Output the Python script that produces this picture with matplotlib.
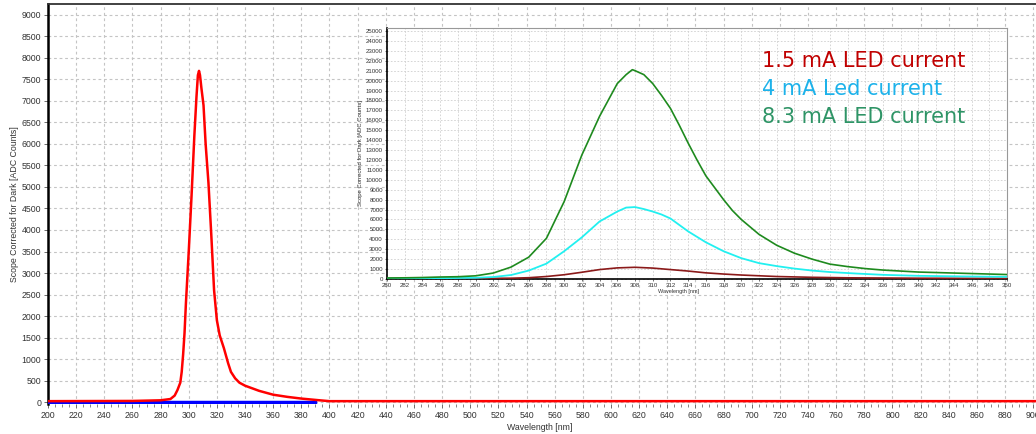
import matplotlib
matplotlib.use("Agg")
import matplotlib.pyplot as plt
from matplotlib.ticker import MultipleLocator

# ---- main spectrum (1.5 mA, red) ----
main_nm = [200, 260, 280, 287, 290, 292, 294, 295, 296, 297, 298, 300, 302, 304, 305.5,
           306.5, 307.3, 308, 309, 310.5, 312, 314, 316, 318, 320, 322, 325, 328, 330,
           333, 336, 340, 345, 350, 360, 370, 380, 393, 400, 902]
main_counts = [20, 25, 40, 70, 150, 280, 450, 700, 1100, 1600, 2300, 3500, 4800, 6200, 7100,
               7600, 7700, 7600, 7300, 6900, 6000, 5100, 3900, 2600, 1900, 1550, 1250, 900, 700,
               550, 450, 380, 320, 260, 170, 120, 80, 40, 20, 20]
blue_nm = [200, 390]
blue_counts = [0, 0]

# ---- inset spectra ----
green_nm = [280, 282, 284, 286, 288, 290, 292, 294, 296, 298, 300, 302, 304, 306, 307, 307.7,
            308, 309, 310, 311, 312, 313, 314, 315, 316, 317, 318, 319, 320, 322, 324, 326,
            328, 330, 332, 334, 336, 338, 340, 344, 350]
green_counts = [100, 120, 150, 200, 230, 320, 600, 1200, 2200, 4100, 7800, 12500, 16400, 19700,
                20600, 21100, 21000, 20600, 19700, 18500, 17200, 15500, 13700, 12000, 10400,
                9200, 8000, 6900, 6000, 4500, 3400, 2600, 2000, 1500, 1250, 1050, 900, 800,
                700, 600, 450]
cyan_nm = [280, 286, 290, 292, 294, 296, 298, 300, 302, 304, 306, 307, 308, 309, 310, 311, 312,
           314, 316, 318, 320, 322, 324, 326, 328, 330, 333, 336, 340, 345, 350]
cyan_counts = [50, 80, 120, 200, 400, 850, 1550, 2800, 4200, 5800, 6800, 7200, 7250, 7050, 6800,
               6500, 6100, 4800, 3700, 2800, 2100, 1600, 1300, 1050, 850, 700, 550, 420, 320,
               260, 220]
dred_nm = [280, 290, 294, 296, 298, 300, 302, 304, 306, 308, 310, 312, 314, 316, 318, 320, 324,
           328, 332, 340, 350]
dred_counts = [50, 60, 80, 130, 250, 430, 680, 950, 1120, 1180, 1100, 950, 800, 620, 500, 400,
               250, 170, 120, 80, 60]

legend_texts = ["1.5 mA LED current", "4 mA Led current", "8.3 mA LED current"]
legend_colors = ["#C00000", "#1DB2EA", "#2E9466"]

ylabel = "Scope Corrected for Dark [ADC Counts]"
xlabel = "Wavelength [nm]"

small = "Liberation Sans"
W, H = 1036, 434
fig = plt.figure(figsize=(W/100, H/100), dpi=100)
ax = fig.add_axes([48/W, 30/H, 1 - 48/W, (H-4-30)/H])
ax.set_xlim(200, 902)
ax.set_ylim(-46, 9255)
ax.xaxis.set_major_locator(MultipleLocator(20))
ax.xaxis.set_minor_locator(MultipleLocator(5))
ax.yaxis.set_major_locator(MultipleLocator(500))
ax.grid(True, which="major", color="#c4c4c4", linestyle=(0, (2.5, 2.5)), linewidth=0.8)
ax.plot(blue_nm, blue_counts, color="#0000FF", linewidth=2.5, zorder=3)
ax.plot(main_nm, main_counts, color="#FF0000", linewidth=1.8, zorder=4)
for side in ["right", "bottom"]:
    ax.spines[side].set_visible(False)
ax.spines["left"].set_linewidth(1.8)
ax.spines["top"].set_linewidth(1.3)
ax.spines["top"].set_color("#333333")
ax.tick_params(axis="both", which="major", labelsize=6.3, labelcolor="#333333", length=3,
               width=0.6, color="#555555", pad=2)
ax.tick_params(axis="x", which="minor", length=2, width=0.5, color="#555555")
for lbl in ax.get_xticklabels() + ax.get_yticklabels():
    lbl.set_family(small)
ax.set_ylabel(ylabel, fontsize=6.3, color="#333333", family=small)
ax.yaxis.set_label_coords(-(48-19)/(W-48), 0.5)
fig.text(540/W, 1 - 427/H, xlabel, fontsize=6.3, color="#333333", family=small,
         ha="center", va="center")

# ---- inset ----
ins = fig.add_axes([387/W, 155/H, 620/W, (279-28)/H])
ins.set_facecolor("white")
ins.set_xlim(280, 350)
ins.set_ylim(0, 25300)
ins.xaxis.set_major_locator(MultipleLocator(2))
ins.xaxis.set_minor_locator(MultipleLocator(0.5))
ins.yaxis.set_major_locator(MultipleLocator(1000))
ins.grid(True, which="major", color="#cfcfcf", linestyle=(0, (2, 2)), linewidth=0.6)
ins.plot(dred_nm, dred_counts, color="#8B1A1A", linewidth=1.2, zorder=3)
ins.plot(cyan_nm, cyan_counts, color="#22F0F0", linewidth=1.3, zorder=3)
ins.plot(green_nm, green_counts, color="#1E8A1E", linewidth=1.2, zorder=3)
ins.spines["left"].set_linewidth(1.2)
ins.spines["bottom"].set_linewidth(1.2)
ins.spines["top"].set_color("#999999")
ins.spines["right"].set_color("#999999")
ins.tick_params(axis="both", which="major", labelsize=4.4, labelcolor="#333333", length=1.5,
                width=0.4, pad=1.5)
ins.tick_params(axis="x", which="minor", length=1, width=0.3)
for lbl in ins.get_xticklabels() + ins.get_yticklabels():
    lbl.set_family(small)
ins.set_ylabel(ylabel, fontsize=4.3, color="#333333", labelpad=2, family=small)
ins.set_xlabel(xlabel, fontsize=4, color="#333333", labelpad=1, family=small)
ins.xaxis.set_label_coords((678-387)/620, -0.04)

for i, (t, c) in enumerate(zip(legend_texts, legend_colors)):
    fig.text(762/W, 1 - (67 + 28*i)/H, t, color=c, fontsize=15,
             family="DejaVu Sans", ha="left", va="baseline")

fig.savefig("out.png", dpi=100)
